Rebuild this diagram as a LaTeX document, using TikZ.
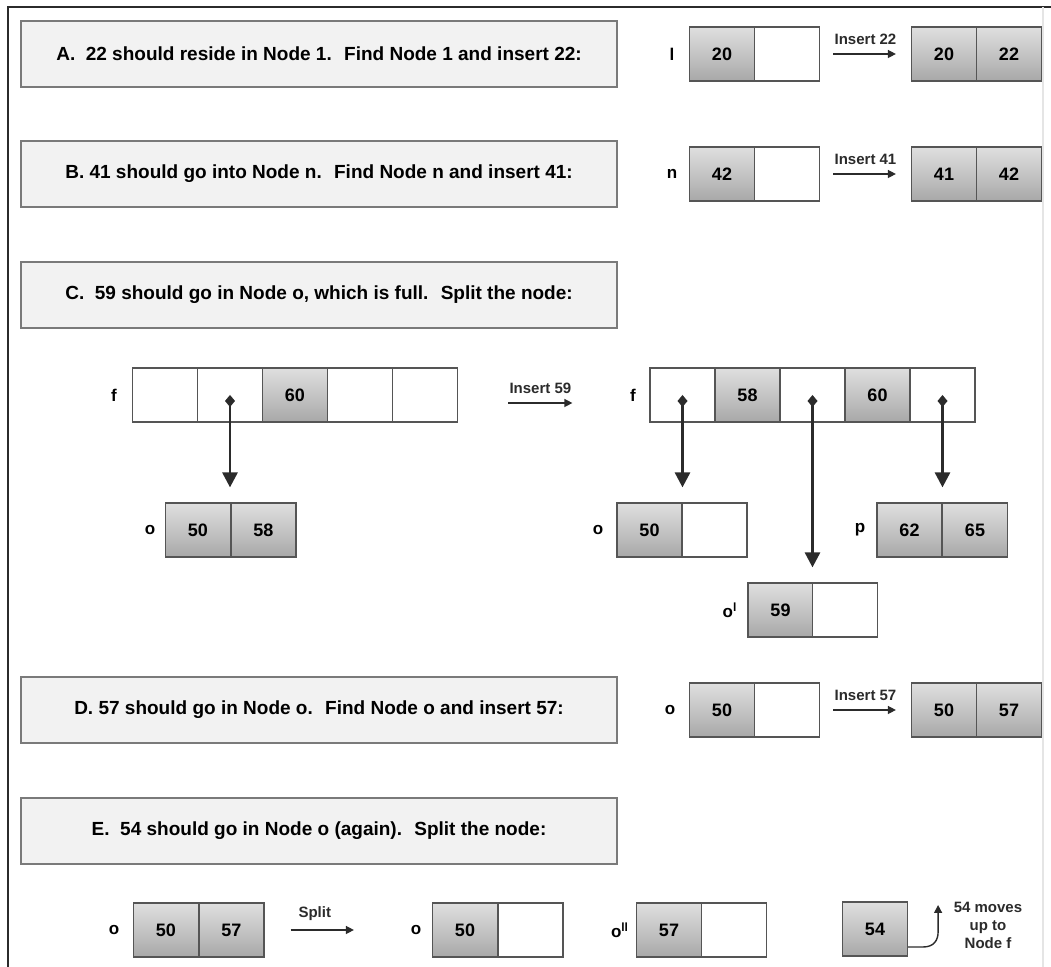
\documentclass[tikz,border=0pt]{standalone}
\usepackage{fontspec}
\setmainfont{Liberation Sans}
\usetikzlibrary{arrows.meta}

\definecolor{boxfill}{HTML}{F2F2F2}
\definecolor{boxline}{HTML}{7A7A7A}
\definecolor{cellline}{HTML}{555555}
\definecolor{ink}{HTML}{2B2B2B}

\tikzset{
  stepbox/.style={draw=boxline, line width=0.8pt, fill=boxfill, minimum width=298pt, minimum height=33pt, font=\fontsize{9.5}{11}\selectfont\bfseries},
  full/.style={draw=cellline, line width=0.6pt, minimum width=32.5pt, minimum height=27pt, inner sep=0pt, top color=gray!25, bottom color=gray!68, font=\fontsize{9}{10}\selectfont\bfseries},
  slot/.style={draw=cellline, line width=0.6pt, fill=white, minimum width=32.5pt, minimum height=27pt, inner sep=0pt},
  tag/.style={font=\fontsize{8.5}{10}\selectfont\bfseries},
  lbl/.style={font=\fontsize{7.5}{9}\selectfont\bfseries, text=ink},
  ins/.style={draw=ink, line width=0.7pt, -{Triangle[length=4pt,width=4pt]}},
  ptr/.style={draw=ink, line width=1.4pt, {Diamond[length=6pt,width=5pt]}-{Triangle[length=7.5pt,width=7.5pt]}},
}

\begin{document}
\begin{tikzpicture}[x=0.5pt, y=-0.5pt]
  \useasboundingbox (0,0) rectangle (1051,967);
  % frame
  \draw[ink, line width=1.2pt] (8,967) -- (8,7) -- (1051,7);
  \draw[gray!20, line width=0.8pt] (1043,7) -- (1043,967);

  % A
  \node[stepbox] (stepA) at (319,54) {A.~ 22 should reside in Node 1.~ Find Node 1 and insert 22:};
  \node[tag] (tagl) at (672,54) {l};
  \node[full] (la1) at (722,54) {20};
  \node[slot] (la2) at (787,54) {};
  \node[full] (lb1) at (944,54) {20};
  \node[full] (lb2) at (1009,54) {22};
  \draw[ins, shorten <=6.5pt, shorten >=7.5pt] (la2) -- node[lbl, above=1pt] {Insert 22} (lb1);

  % B
  \node[stepbox] (stepB) at (319,174) {B. 41 should go into Node n.~ Find Node n and insert 41:};
  \node[tag] (tagn) at (672,174) {n};
  \node[full] (na1) at (722,174) {42};
  \node[slot] (na2) at (787,174) {};
  \node[full] (nb1) at (944,174) {41};
  \node[full] (nb2) at (1009,174) {42};
  \draw[ins, shorten <=6.5pt, shorten >=7.5pt] (na2) -- node[lbl, above=1pt] {Insert 41} (nb1);

  % C
  \node[stepbox] (stepC) at (319,295) {C.~ 59 should go in Node o, which is full.~ Split the node:};
  \node[tag] (tagfa) at (114,395) {f};
  \foreach \i/\s/\v in {1/slot/,2/slot/,3/full/60,4/slot/,5/slot/}
    \node[\s] (fa\i) at (100+65*\i,395) {\v};
  \node[tag] (tagoa) at (150,530) {o};
  \node[full] (oa1) at (198,530) {50};
  \node[full] (oa2) at (263.5,530) {58};
  \draw[ptr, shorten >=7.5pt] (fa2.center) -- (fa2.center |- oa1.north);

  \node[tag] (tagfb) at (633,395) {f};
  \foreach \i/\s/\v in {1/slot/,2/full/58,3/slot/,4/full/60,5/slot/}
    \node[\s] (fb\i) at (617.5+65*\i,395) {\v};
  \draw[ins, shorten <=25pt, shorten >=38.5pt] ([yshift=-4pt]fa5.east) -- node[lbl, above=1pt, pos=0.43] {Insert 59} ([yshift=-4pt]fb1.west);
  \node[tag] (tagob) at (598,530) {o};
  \node[full] (ob1) at (649.5,530) {50};
  \node[slot] (ob2) at (714.5,530) {};
  \node[tag] (tagp) at (860,530) {p};
  \node[full] (p1) at (909.5,530) {62};
  \node[full] (p2) at (975,530) {65};
  \node[tag] (tagoc) at (730,610) {o\textsuperscript{l}};
  \node[full] (oc1) at (780.5,610) {59};
  \node[slot] (oc2) at (845,610) {};
  \draw[ptr, shorten >=7.5pt] (fb1.center) -- (fb1.center |- ob1.north);
  \draw[ptr, shorten >=7.5pt] (fb3.center) -- (fb3.center |- oc1.north);
  \draw[ptr, shorten >=7.5pt] (fb5.center) -- (fb5.center |- p1.north);

  % D
  \node[stepbox] (stepD) at (319,710) {D. 57 should go in Node o.~ Find Node o and insert 57:};
  \node[tag] (tagod) at (670,710) {o};
  \node[full] (od1) at (722,710) {50};
  \node[slot] (od2) at (787,710) {};
  \node[full] (oe1) at (944,710) {50};
  \node[full] (oe2) at (1009,710) {57};
  \draw[ins, shorten <=6.5pt, shorten >=7.5pt] (od2) -- node[lbl, above=1pt] {Insert 57} (oe1);

  % E
  \node[stepbox] (stepE) at (319,831) {E.~ 54 should go in Node o (again).~ Split the node:};
  \node[tag] (tagof) at (114,930) {o};
  \node[full] (of1) at (166,930) {50};
  \node[full] (of2) at (231.5,930) {57};
  \node[tag] (tagog) at (416,930) {o};
  \node[full] (og1) at (465,930) {50};
  \node[slot] (og2) at (530.5,930) {};
  \draw[ins, shorten <=13pt, shorten >=39pt] (of2) -- node[lbl, above=1pt, pos=0.3] {Split} (og1);
  \node[tag] (tagoh) at (620,930) {o\textsuperscript{ll}};
  \node[full] (oh1) at (669,930) {57};
  \node[slot] (oh2) at (734,930) {};
  \node[full] (up) at (875,929) {54};
  \node[lbl, align=center] (uptext) at (988,925) {54 moves\\up to\\Node f};
  \draw[ins] ([yshift=-9pt]up.east) -- ++(15,0) .. controls +(11,0) and +(0,8) .. ++(15,-15) -- ++(0,-27);
\end{tikzpicture}
\end{document}
